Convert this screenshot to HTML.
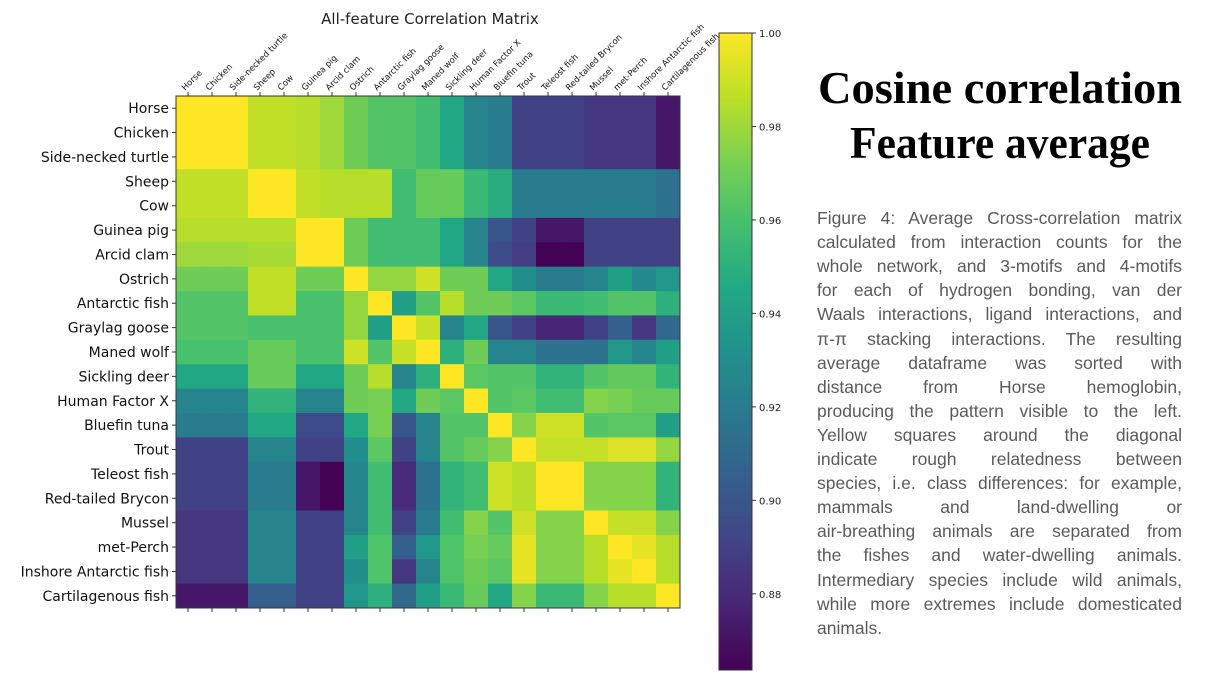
<!DOCTYPE html>
<html><head><meta charset="utf-8"><style>
body{margin:0;background:#fff;}
svg{display:block;font-family:"DejaVu Sans","Liberation Sans",sans-serif;}
#para{position:absolute;left:817px;top:0;width:365px;font-family:"Liberation Sans",sans-serif;font-size:17.5px;color:#5a5a5a;}
#para div{position:absolute;left:0;width:365px;white-space:nowrap;text-align:justify;text-align-last:justify;line-height:20px;}
#para div.last{text-align-last:left;}
</style></head><body>
<svg id="chart" width="1212" height="682" xmlns="http://www.w3.org/2000/svg">
<rect x="0" y="0" width="1212" height="682" fill="#fff"/>
<text x="430" y="24" font-size="15" text-anchor="middle" fill="#222">All-feature Correlation Matrix</text>
<g id="heat"></g>
<g id="cbar"></g>
<g font-family="'Liberation Serif',serif" font-weight="bold" fill="#000">
<text x="818" y="103" font-size="46" textLength="364" lengthAdjust="spacingAndGlyphs">Cosine correlation</text>
<text x="850" y="158" font-size="46" textLength="300" lengthAdjust="spacingAndGlyphs">Feature average</text>
</g>
</svg>
<div id="para"></div>
<script>
const species=["Horse","Chicken","Side-necked turtle","Sheep","Cow","Guinea pig","Arcid clam","Ostrich","Antarctic fish","Graylag goose","Maned wolf","Sickling deer","Human Factor X","Bluefin tuna","Trout","Teleost fish","Red-tailed Brycon","Mussel","met-Perch","Inshore Antarctic fish","Cartilagenous fish"];
const r0=[1,1,1,.987,.987,.985,.98,.97,.963,.963,.958,.945,.925,.92,.89,.89,.89,.885,.885,.885,.872];
const r3=[.987,.987,.987,1,1,.987,.985,.985,.985,.958,.968,.968,.955,.948,.92,.92,.92,.92,.92,.92,.915];
const r5=[.985,.985,.985,.985,.985,1,1,.97,.958,.958,.958,.945,.925,.9,.89,.872,.872,.89,.89,.89,.89];
const r6=[.98,.98,.98,.982,.982,1,1,.97,.958,.958,.958,.945,.925,.895,.888,.864,.864,.89,.89,.89,.89];
const r7=[.97,.97,.97,.987,.987,.97,.97,1,.978,.978,.99,.97,.97,.945,.93,.92,.92,.925,.94,.928,.935];
const r8=[.963,.963,.963,.987,.987,.96,.96,.978,1,.94,.963,.985,.97,.97,.965,.955,.955,.958,.963,.963,.95];
const r9=[.963,.963,.963,.96,.96,.96,.96,.978,.94,1,.988,.925,.945,.9,.89,.878,.878,.89,.905,.885,.91];
const r10=[.96,.96,.96,.968,.968,.96,.96,.99,.963,.988,1,.95,.97,.925,.925,.915,.915,.915,.935,.925,.94];
const r11=[.945,.945,.945,.968,.968,.945,.945,.97,.985,.925,.95,1,.965,.963,.963,.952,.952,.963,.967,.967,.952];
const r12=[.925,.925,.925,.952,.952,.925,.925,.97,.972,.945,.97,.965,1,.963,.965,.958,.958,.975,.972,.968,.968];
const r13=[.92,.92,.92,.945,.945,.895,.895,.945,.972,.9,.925,.963,.963,1,.975,.99,.99,.963,.965,.965,.94];
const r14=[.89,.89,.89,.925,.925,.89,.89,.93,.965,.89,.925,.963,.968,.975,1,.988,.988,.988,.993,.993,.978];
const r15=[.89,.89,.89,.92,.92,.872,.864,.925,.958,.88,.915,.952,.958,.99,.985,1,1,.975,.975,.975,.952];
const r17=[.885,.885,.885,.925,.925,.89,.89,.925,.958,.89,.92,.958,.975,.963,.99,.975,.975,1,.988,.988,.975];
const r18=[.885,.885,.885,.925,.925,.89,.89,.94,.962,.905,.935,.962,.972,.968,.995,.975,.975,.985,1,.995,.985];
const r19=[.885,.885,.885,.925,.925,.89,.89,.93,.962,.885,.925,.962,.97,.965,.995,.975,.975,.985,.995,1,.985];
const r20=[.872,.872,.872,.905,.905,.89,.89,.935,.95,.91,.94,.955,.968,.945,.975,.955,.955,.975,.985,.985,1];
const matrix=[r0,r0,r0,r3,r3,r5,r6,r7,r8,r9,r10,r11,r12,r13,r14,r15,r15,r17,r18,r19,r20];
const cbTicks=[1.00,0.98,0.96,0.94,0.92,0.90,0.88];
const vmin=0.8637,vmax=1.0;
const stops=["#440154","#482475","#414487","#355f8d","#2a788e","#21918c","#22a884","#44bf70","#7ad151","#bddf26","#fde725"];
function hex(h){return [1,3,5].map(i=>parseInt(h.substr(i,2),16));}
function viridis(v){let t=Math.max(0,Math.min(1,(v-vmin)/(vmax-vmin)))*10;let i=Math.min(9,Math.floor(t));let f=t-i;let a=hex(stops[i]),b=hex(stops[i+1]);return "rgb("+a.map((x,k)=>Math.round(x+(b[k]-x)*f)).join(",")+")";}
const NS="http://www.w3.org/2000/svg";
function mk(tag,attrs,parent){const e=document.createElementNS(NS,tag);for(const k in attrs)e.setAttribute(k,attrs[k]);parent.appendChild(e);return e;}
const X0=176,X1=680,Y0=96,Y1=608,n=species.length;
const cw=(X1-X0)/n,ch=(Y1-Y0)/n;
const xS=i=>X0+i*cw, yS=i=>Y0+i*ch;
const heat=document.getElementById('heat');
for(let r=0;r<n;r++)for(let c=0;c<n;c++){
 const e=mk('rect',{x:xS(c),y:yS(r),width:cw+0.5,height:ch+0.5,fill:viridis(matrix[r][c])},heat);
 
 
}
mk('rect',{x:X0,y:Y0,width:X1-X0,height:Y1-Y0,fill:'none',stroke:'#333','stroke-width':1},heat);
for(let i=0;i<n;i++){
 const cx=xS(i)+cw/2, cy=yS(i)+ch/2;
 mk('line',{x1:cx,y1:Y0,x2:cx,y2:Y0-4,stroke:'#333'},heat);
 mk('line',{x1:cx,y1:Y1,x2:cx,y2:Y1+4,stroke:'#333'},heat);
 mk('line',{x1:X0,y1:cy,x2:X0-4,y2:cy,stroke:'#333'},heat);
 const yl=mk('text',{x:X0-7,y:cy+5,'font-size':14,'text-anchor':'end',fill:'#111'},heat);
 yl.textContent=species[i];
 
 
 const xl=mk('text',{x:0,y:0,'font-size':8.5,fill:'#111',transform:`translate(${cx-3},${Y0-5}) rotate(-45)`},heat);
 xl.textContent=species[i];
 
 
}
const cb=document.getElementById('cbar');
const CBX=719,CBW=33,CBT=33,CBB=670;
const cbY=v=>CBT+(vmax-v)/(vmax-vmin)*(CBB-CBT);
const defs=mk('defs',{},cb);
const g=mk('linearGradient',{id:'vg',x1:0,y1:1,x2:0,y2:0},defs);
stops.forEach((s,i)=>mk('stop',{offset:i/10,'stop-color':s},g));
const bar=mk('rect',{x:CBX,y:CBT,width:CBW,height:CBB-CBT,fill:'url(#vg)',stroke:'#333'},cb);


cbTicks.forEach(v=>{
 const y=cbY(v);
 mk('line',{x1:CBX+CBW,y1:y,x2:CBX+CBW+4,y2:y,stroke:'#333'},cb);
 const t=mk('text',{x:CBX+CBW+7,y:y+4,'font-size':10,fill:'#222'},cb);
 t.textContent=v.toFixed(2);
 
 
});
const lines=["Figure 4: Average Cross-correlation matrix","calculated from interaction counts for the","whole network, and 3-motifs and 4-motifs","for each of hydrogen bonding, van der","Waals interactions, ligand interactions, and","π-π stacking interactions. The resulting","average dataframe was sorted with","distance from Horse hemoglobin,","producing the pattern visible to the left.","Yellow squares around the diagonal","indicate rough relatedness between","species, i.e. class differences: for example,","mammals and land-dwelling or","air-breathing animals are separated from","the fishes and water-dwelling animals.","Intermediary species include wild animals,","while more extremes include domesticated","animals."];
const para=document.getElementById('para');
lines.forEach((l,i)=>{
 const d=document.createElement('div');
 d.style.top=(208+i*24.1)+'px';
 if(i===lines.length-1)d.className='last';
 d.textContent=l;
 para.appendChild(d);
});
</script>
</body></html>
